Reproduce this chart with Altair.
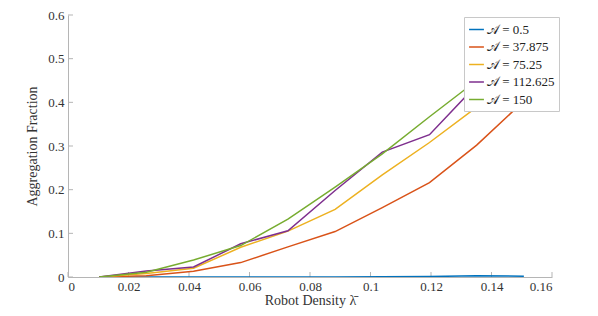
import altair as alt
import pandas as pd

density = [0.0103, 0.0259, 0.0415, 0.0571, 0.0727, 0.0883, 0.1039, 0.1195, 0.1351, 0.1507]
series_names = ["𝒜 = 0.5", "𝒜 = 37.875", "𝒜 = 75.25", "𝒜 = 112.625", "𝒜 = 150"]
a_05 = [0.0, 0.0, 0.0, 0.0, 0.0, 0.0, 0.0005, 0.001, 0.003, 0.002]
a_37875 = [0.0, 0.003, 0.013, 0.033, 0.069, 0.104, 0.159, 0.216, 0.302, 0.403]
a_7525 = [0.0, 0.008, 0.020, 0.068, 0.105, 0.155, 0.234, 0.308, 0.389, 0.462]
a_112625 = [0.0, 0.014, 0.023, 0.076, 0.106, 0.198, 0.286, 0.326, 0.440, 0.500]
a_150 = [0.0, 0.011, 0.039, 0.072, 0.1325, 0.206, 0.282, 0.367, 0.450, 0.520]
colors = ["#0072BD", "#D95319", "#EDB120", "#7E2F8E", "#77AC30"]
x_ticks = [0, 0.02, 0.04, 0.06, 0.08, 0.1, 0.12, 0.14, 0.16]
y_ticks = [0, 0.1, 0.2, 0.3, 0.4, 0.5, 0.6]

rows = []
for name, vals in zip(series_names, [a_05, a_37875, a_7525, a_112625, a_150]):
    for i, (x, y) in enumerate(zip(density, vals)):
        rows.append({"series": name, "x": x, "y": y, "i": i})
df = pd.DataFrame(rows)

W, H = 484, 262
FONT = "Liberation Serif, DejaVu Serif, serif"

xscale = alt.Scale(domain=[0, 0.16], nice=False, zero=False)
yscale = alt.Scale(domain=[0, 0.6], nice=False)

lines = alt.Chart(df).mark_line(strokeWidth=1.5, clip=True).encode(
    x=alt.X("x:Q", scale=xscale,
            axis=alt.Axis(title="Robot Density λ̄", values=x_ticks, format="~g",
                          tickSize=0, grid=False, labelPadding=3, titlePadding=0)),
    y=alt.Y("y:Q", scale=yscale,
            axis=alt.Axis(title="Aggregation Fraction", values=y_ticks, format="~g",
                          tickSize=0, grid=False, labelPadding=4, titlePadding=8)),
    color=alt.Color("series:N", sort=series_names,
                    scale=alt.Scale(domain=series_names, range=colors),
                    legend=alt.Legend(title=None, orient="none", legendX=396, legendY=2,
                                      symbolType="stroke", symbolSize=220, symbolStrokeWidth=1.5,
                                      labelFontSize=13, labelFont=FONT, labelColor="#222222",
                                      fillColor="white", strokeColor="#c8c8c8", padding=4,
                                      rowPadding=1.5, labelOffset=2, labelLimit=200)),
    order="i:Q",
)

xt = pd.DataFrame({"v": x_ticks})
yt = pd.DataFrame({"v": y_ticks})
xtick_marks = alt.Chart(xt).mark_rule(color="#b5b5b5", strokeWidth=1).encode(
    x=alt.X("v:Q", scale=xscale), y=alt.value(H), y2=alt.value(H - 5))
ytick_marks = alt.Chart(yt).mark_rule(color="#b5b5b5", strokeWidth=1).encode(
    y=alt.Y("v:Q", scale=yscale), x=alt.value(0), x2=alt.value(5))

chart = alt.layer(xtick_marks, ytick_marks, lines).properties(
    width=W, height=H,
    autosize=alt.AutoSizeParams(type="none"),
    padding={"left": 60, "top": 7, "right": 38, "bottom": 31},
).configure_view(stroke=None).configure_axis(
    domainColor="#b5b5b5", labelFont=FONT, titleFont=FONT, labelFontSize=13,
    titleFontSize=14, titleFontWeight="normal", labelColor="#333333", titleColor="#333333",
)

chart.save("out.html", embed_options={"renderer": "svg", "actions": False})
